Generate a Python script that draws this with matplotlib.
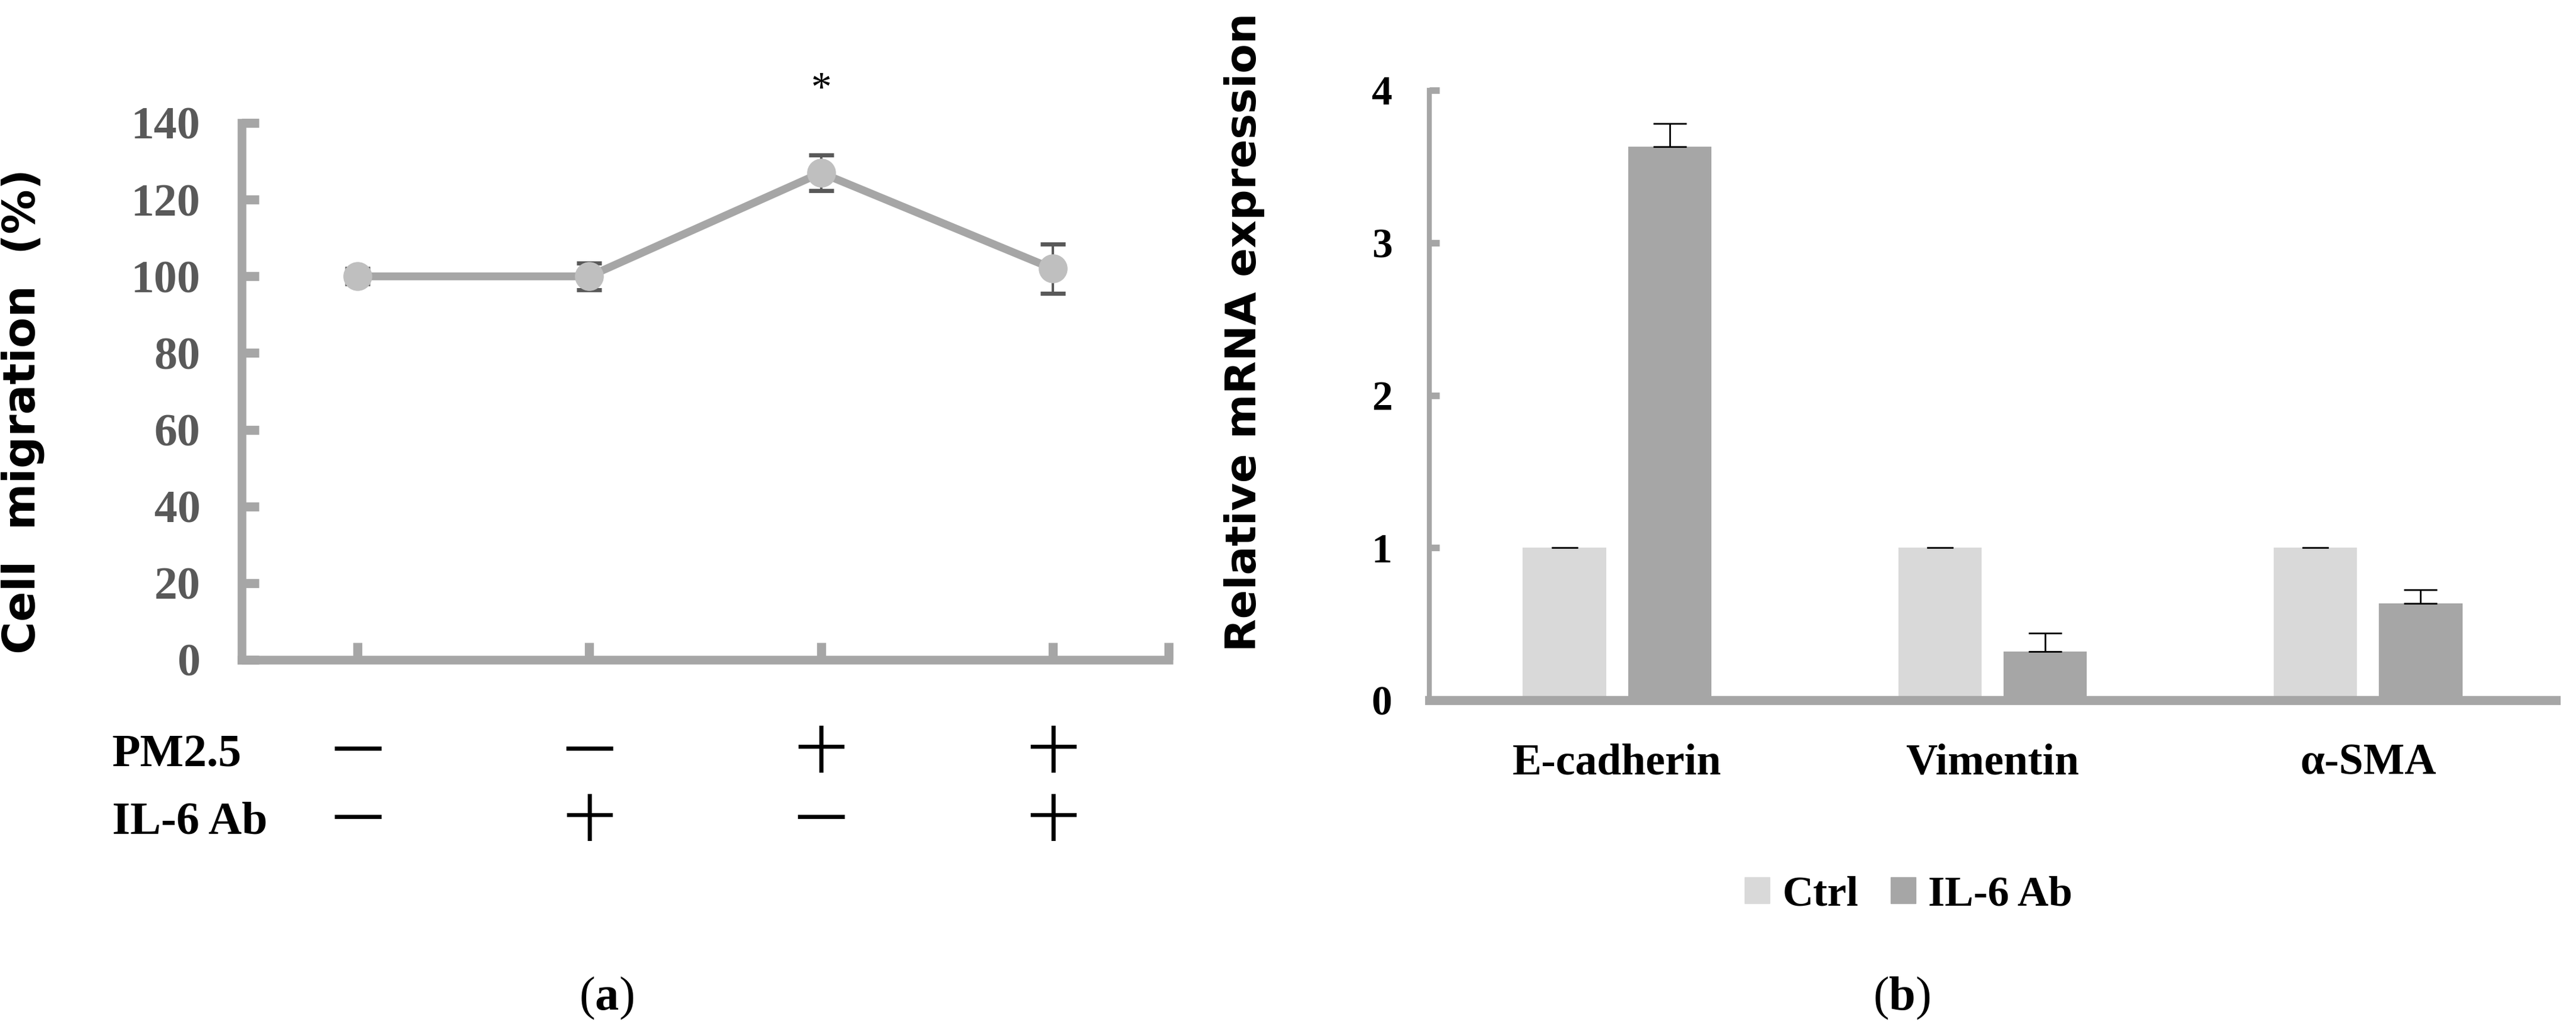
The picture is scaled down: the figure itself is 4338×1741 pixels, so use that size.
import numpy as np
import matplotlib
matplotlib.use("Agg")
import matplotlib.pyplot as plt
from matplotlib.patches import Patch

# panel (a): cell migration
treat_pos = [0, 1, 2, 3]
migration = [100, 100, 127, 102]
migration_err = [2, 3.5, 4.6, 6.4]
pm25_signs = ["一", "一", "十", "十"]
il6_signs = ["一", "十", "一", "十"]
row_labels = ["PM2.5", "IL-6 Ab"]

# panel (b): mRNA expression
genes = ["E-cadherin", "Vimentin", "α-SMA"]
ctrl_vals = [1.0, 1.0, 1.0]
ctrl_err = [0.0, 0.0, 0.0]
il6_vals = [3.63, 0.32, 0.635]
il6_err = [0.15, 0.12, 0.09]
legend_labels = ["Ctrl", "IL-6 Ab"]

W, H, DPI = 4338, 1741, 100
serif = ["Liberation Serif", "DejaVu Serif"]
sans = ["DejaVu Sans"]
cjk = ["Noto Sans CJK SC", "DejaVu Sans"]

plt.rcParams["mathtext.fontset"] = "custom"
plt.rcParams["mathtext.rm"] = "Liberation Serif"
plt.rcParams["mathtext.bf"] = "Liberation Serif:bold"

axis_grey = "#a6a6a6"
fig = plt.figure(figsize=(W / DPI, H / DPI), dpi=DPI)

def px_box(x0, x1, ytop, ybot):
    return [x0 / W, 1 - ybot / H, (x1 - x0) / W, (ybot - ytop) / H]

# ---- (a)
ax1 = fig.add_axes(px_box(407, 1968, 207, 1111))
ax1.errorbar(treat_pos, migration, yerr=migration_err, color=axis_grey, lw=9.5,
             marker="o", ms=34, mfc="#bfbfbf", mec="#bfbfbf",
             ecolor="#595959", elinewidth=3, capsize=15, capthick=5, zorder=3)
ax1.text(2, 148.5, "*", ha="center", va="center", fontsize=50,
         family=serif, clip_on=False)
ax1.set_xlim(-0.5, 3.5)
ax1.set_ylim(0, 140)
ax1.set_yticks(np.arange(0, 141, 20))
ax1.set_xticks(treat_pos + [3.5])
ax1.set_xticklabels([])
for side in ["top", "right"]:
    ax1.spines[side].set_visible(False)
for side in ["left", "bottom"]:
    ax1.spines[side].set_color(axis_grey)
    ax1.spines[side].set_linewidth(10.5)
ax1.tick_params(axis="both", direction="in", length=21, width=11, color=axis_grey)
ax1.tick_params(axis="y", pad=50, labelcolor="#595959", labelsize=56)
for lab in ax1.get_yticklabels():
    lab.set_family(serif)
    lab.set_fontweight("bold")
ax1.set_ylabel("Cell  migration  (%)", family=sans, fontweight="bold", fontsize=54)
ax1.yaxis.set_label_coords((75 - 407) / 1561, 0.463)

xt = ax1.get_xaxis_transform()
for signs, yrow in zip([pm25_signs, il6_signs], [-0.176, -0.303]):
    for x, s in zip(treat_pos, signs):
        ax1.text(x, yrow, s, transform=xt, ha="center", va="center",
                 fontsize=62, family=cjk, clip_on=False)
for lab, yrow in zip(row_labels, [1272, 1385]):
    fig.text(189 / W, 1 - yrow / H, lab, ha="left", va="center",
             fontsize=56, fontweight="bold", family=serif)

# ---- (b)
ax2 = fig.add_axes(px_box(2407, 4304, 152, 1179))
gx = np.arange(len(genes))
bw = 0.222
ax2.bar(gx - 0.14, ctrl_vals, bw, color="#d9d9d9", zorder=2)
ax2.bar(gx + 0.14, il6_vals, bw, color=axis_grey, zorder=2)
ax2.errorbar(gx - 0.14, ctrl_vals, yerr=[np.zeros(3), ctrl_err], fmt="none",
             ecolor="black", elinewidth=2, capsize=16, capthick=2, zorder=3)
ax2.errorbar(gx + 0.14, il6_vals, yerr=[np.zeros(3), il6_err], fmt="none",
             ecolor="black", elinewidth=2, capsize=20, capthick=2, zorder=3)
ax2.set_xlim(-0.5, 2.5)
ax2.set_ylim(0, 4)
ax2.set_yticks(range(0, 5))
ax2.set_xticks(gx)
ax2.set_xticklabels(genes)
for side in ["top", "right"]:
    ax2.spines[side].set_visible(False)
ax2.spines["left"].set_color(axis_grey)
ax2.spines["left"].set_linewidth(6)
ax2.spines["bottom"].set_color(axis_grey)
ax2.spines["bottom"].set_linewidth(11)
ax2.tick_params(axis="y", direction="in", length=12, width=8, color=axis_grey,
                pad=45, labelsize=50)
ax2.tick_params(axis="x", length=0, pad=52, labelsize=53)
for lab in ax2.get_yticklabels() + ax2.get_xticklabels():
    lab.set_family(serif)
    lab.set_fontweight("bold")
ax2.set_ylabel("Relative mRNA expression", family=sans, fontweight="bold", fontsize=52)
ax2.yaxis.set_label_coords((2130 - 2407) / 1897, 0.603)

handles = [Patch(color="#d9d9d9"), Patch(color=axis_grey)]
fig.legend(handles, legend_labels, loc="center", bbox_to_anchor=(3214 / W, 1 - 1507 / H),
           ncol=2, frameon=False, handlelength=0.58, handleheight=0.58,
           handletextpad=0.3, columnspacing=0.75,
           prop={"family": serif, "weight": "bold", "size": 52})

fig.text(1021 / W, 1 - 1680 / H, r"$(\mathbf{a})$", ha="center", va="center", fontsize=58)
fig.text(3202 / W, 1 - 1680 / H, r"$(\mathbf{b})$", ha="center", va="center", fontsize=58)

fig.savefig("out.png", dpi=DPI, facecolor="white")
